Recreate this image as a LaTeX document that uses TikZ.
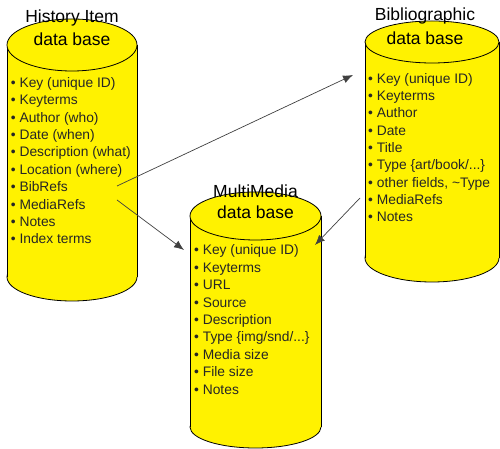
\documentclass[tikz,border=0pt]{standalone}
\usepackage{fontspec}
\setmainfont{Liberation Sans}
\usetikzlibrary{arrows.meta}
\newcommand{\tdots}{...}
\tikzset{
  cylfill/.style={fill=yellow},
  cyldraw/.style={draw=black, line width=0.8pt},
  itemtext/.style={font=\fontsize{13.8}{16}\selectfont, anchor=base west, inner sep=0pt, text=black!85},
  titletext/.style={font=\fontsize{17.5}{21}\selectfont, anchor=base, inner sep=0pt, text=black},
  link/.style={draw=black!75, line width=0.7pt, -{Latex[length=10pt,width=8pt]}, shorten >=0pt}
}
\newcommand{\dbcyl}[6]{% cx, rx, topcy, topry, botcy, botry
  \fill[cylfill] (#1,#5) ellipse [x radius=#2, y radius=#6];
  \draw[cyldraw] (#1,#5) ellipse [x radius=#2, y radius=#6];
  \fill[cylfill] (#1-#2,#5) rectangle (#1+#2,#3);
  \draw[cyldraw] (#1-#2,#5) -- (#1-#2,#3);
  \draw[cyldraw] (#1+#2,#5) -- (#1+#2,#3);
  \fill[cylfill] (#1,#3) ellipse [x radius=#2, y radius=#4];
  \draw[cyldraw] (#1,#3) ellipse [x radius=#2, y radius=#4];
}
\begin{document}
\begin{tikzpicture}[x=1pt,y=1pt]
\useasboundingbox (0,0) rectangle (500,449);
% cylinders
\dbcyl{72}{65}{404}{26}{172}{24}
\dbcyl{432}{67}{407}{21}{191}{24}
\dbcyl{255.5}{65.5}{233}{24}{22}{21}
% titles
\node[titletext] (htA) at (72,426) {History Item};
\node[titletext] (htB) at (72,403.5) {data base};
\node[titletext] (btA) at (425,428) {Bibliographic};
\node[titletext] (btB) at (425,404.5) {data base};
\node[titletext] (mtA) at (255.5,251.5) {MultiMedia};
\node[titletext] (mtB) at (255.5,230.5) {data base};
% lists
\foreach \t [count=\i] in {Key (unique ID), Keyterms, Author (who), Date (when), Description (what), Location (where), BibRefs, MediaRefs, Notes, Index terms}
  \node[itemtext] (H\i) at (10.7,{361.7-(\i-1)*17.4}) {• \t};
\foreach \t [count=\i] in {Key (unique ID), Keyterms, Author, Date, Title, Type \{art/book/\tdots\}, {other fields, \textasciitilde Type}, MediaRefs, Notes}
  \node[itemtext] (B\i) at (368,{365.7-(\i-1)*17.3}) {• \t};
\foreach \t [count=\i] in {Key (unique ID), Keyterms, URL, Source, Description, Type \{img/snd/\tdots\}, Media size, File size, Notes}
  \node[itemtext] (M\i) at (194,{194-(\i-1)*17.4}) {• \t};
% connectors
\coordinate (hbib) at (117,263);
\coordinate (hmed) at (117,249);
\coordinate (bkey) at (353,374);
\coordinate (bmed) at (360,251);
\coordinate (mkeyL) at (184,199);
\coordinate (mkeyR) at (315,204);
\draw[link] (hbib) -- (bkey);
\draw[link] (hmed) -- (mkeyL);
\draw[link] (bmed) -- (mkeyR);
\end{tikzpicture}
\end{document}
